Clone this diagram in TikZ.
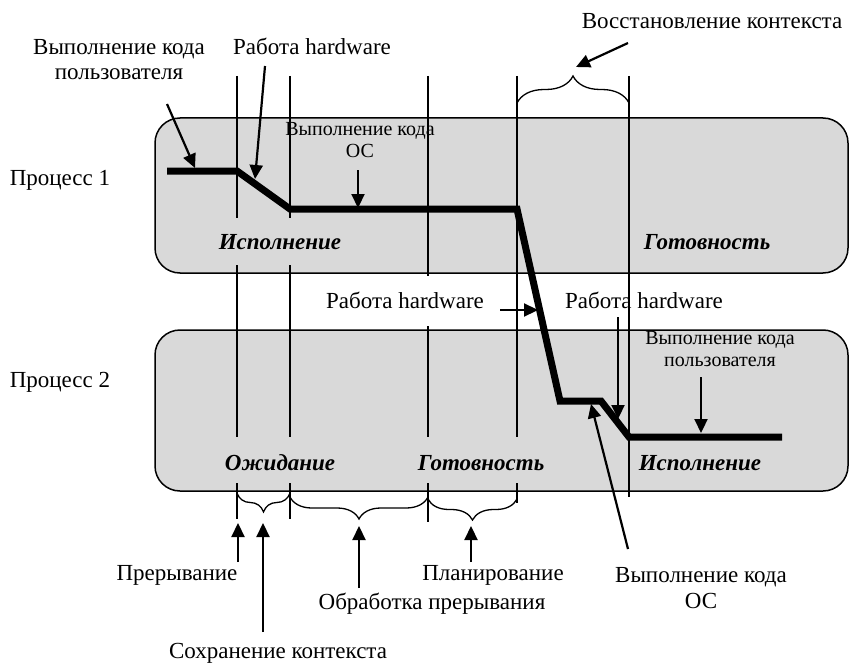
\documentclass[tikz,border=0pt]{standalone}
\usepackage{fontspec}
\setmainfont{Liberation Serif}
\usetikzlibrary{arrows.meta,decorations.pathreplacing}
\definecolor{procgray}{HTML}{D9D9D9}
\begin{document}
\begin{tikzpicture}[x=1pt,y=-1pt,
  lbl/.style={font=\fontsize{23}{25}\selectfont, align=center, inner sep=0pt},
  lblsm/.style={font=\fontsize{20}{22}\selectfont, align=center, inner sep=0pt},
  statelbl/.style={font=\fontsize{23}{25}\selectfont\bfseries\itshape, inner sep=0pt},
  procbox/.style={draw=black, line width=1.5pt, fill=procgray, rounded corners=25pt},
  guide/.style={line width=1.2pt},
  track/.style={line width=7pt, line join=miter},
  ptr/.style={line width=2.2pt, -{Triangle[length=14pt,width=13pt]}},
  brc/.style={line width=1.3pt, decorate, decoration={brace, amplitude=#1}},
]
\useasboundingbox (0,0) rectangle (850,663);

% process lanes
\draw[procbox] (155,118) rectangle (848,273);
\draw[procbox] (155,330) rectangle (848,491);

% time boundaries
\draw[guide] (237,76) -- (237,218) (237,265) -- (237,437) (237,483) -- (237,519);
\draw[guide] (290,76) -- (290,218) (290,265) -- (290,437) (290,483) -- (290,519);
\draw[guide] (428,76) -- (428,276) (428,326) -- (428,437) (428,483) -- (428,522);
\draw[guide] (517,76) -- (517,437) (517,483) -- (517,503);
\draw[guide] (629,76) -- (629,497);

% braces
\draw[brc=27] (517,103) -- (629,103);
\draw[brc=19] (290,493) -- (237,493);
\draw[brc=22] (428,497) -- (290,497);
\draw[brc=21] (517,499) -- (428,499);

% execution track
\coordinate (t0) at (167,171);
\coordinate (t1) at (237,171);
\coordinate (t2) at (290,209);
\coordinate (t3) at (517,209);
\coordinate (t4) at (560,401);
\coordinate (t5) at (601,401);
\coordinate (t6) at (629,437);
\coordinate (t7) at (782,437);
\draw[track] (t0) -- (t1) -- (t2) -- (t3) -- (t4) -- (t5) -- (t6) -- (t7);

% labels
\node[lbl] (p1) at (60,180) {Процесс 1};
\node[lbl] (p2) at (60,382) {Процесс 2};
\node[lbl] (usr1) at (119,60) {Выполнение кода\\пользователя};
\node[lbl] (hw1) at (312,46) {Работа hardware};
\node[lblsm] (os1) at (360,140) {Выполнение кода\\ОС};
\node[lbl] (rest) at (712,21) {Восстановление контекста};
\node[lbl] (hw2) at (405,300) {Работа hardware};
\node[lbl] (hw3) at (644,300) {Работа hardware};
\node[lblsm] (usr2) at (720,349) {Выполнение кода\\пользователя};
\node[lbl, font=\fontsize{23}{26}\selectfont] (os2) at (701,588) {Выполнение кода\\ОС};
\node[lbl] (intr) at (177,575) {Прерывание};
\node[lbl] (save) at (278,653) {Сохранение контекста};
\node[lbl] (hand) at (432,604) {Обработка прерывания};
\node[lbl] (plan) at (493,575) {Планирование};

\node[statelbl] (s1) at (280,242) {Исполнение};
\node[statelbl] (s2) at (707,242) {Готовность};
\node[statelbl] (s3) at (280,463) {Ожидание};
\node[statelbl] (s4) at (481,463) {Готовность};
\node[statelbl] (s5) at (700,463) {Исполнение};

% pointers
\coordinate (a1s) at (167,104); \coordinate (a1e) at (195,168);
\coordinate (a2s) at (265,66);  \coordinate (a2e) at (255,179);
\coordinate (a3s) at (358,170); \coordinate (a3e) at (358,208);
\coordinate (a4s) at (628,43);  \coordinate (a4e) at (576,67);
\coordinate (a5s) at (500,310); \coordinate (a5e) at (538,310);
\coordinate (a6s) at (618,317); \coordinate (a6e) at (618,419);
\coordinate (a7s) at (701,377); \coordinate (a7e) at (701,433);
\coordinate (a8s) at (628,549); \coordinate (a8e) at (591,404);
\coordinate (b1s) at (238,562); \coordinate (b1e) at (238,523);
\coordinate (b2s) at (263,632); \coordinate (b2e) at (263,523);
\coordinate (b3s) at (359,588); \coordinate (b3e) at (359,526);
\coordinate (b4s) at (471,562); \coordinate (b4e) at (471,526);
\foreach \s/\e in {a1s/a1e,a2s/a2e,a3s/a3e,a4s/a4e,a5s/a5e,a6s/a6e,a7s/a7e,a8s/a8e,b1s/b1e,b2s/b2e,b3s/b3e,b4s/b4e}
  \draw[ptr] (\s) -- (\e);
\end{tikzpicture}
\end{document}
